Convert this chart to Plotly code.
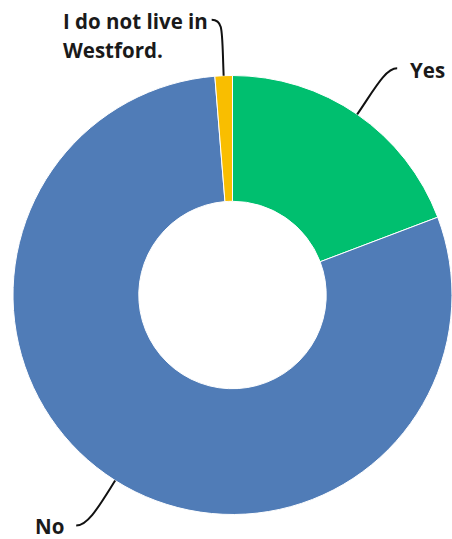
import math
import plotly.graph_objects as go

# ---- data ----
labels = ["Yes", "No", "I do not live in Westford."]
label_lines = [["Yes"], ["No"], ["I do not live in", "Westford."]]
values = [15, 62, 1]
colors = ["#00BF6F", "#507CB7", "#F9BE00"]

W, H = 452, 539
CX, CY, R = 232.5, 295.0, 219.5
HOLE = 0.427

fig = go.Figure(go.Pie(
    labels=labels, values=values, sort=False, direction="clockwise", rotation=0,
    hole=HOLE, textinfo="none", hoverinfo="label+percent",
    marker=dict(colors=colors, line=dict(color="white", width=1)),
    domain=dict(x=[(CX - R) / W, min(1.0, (CX + R) / W)],
                y=[1 - (CY + R) / H, 1 - (CY - R) / H]),
    showlegend=False,
))

def px(x):
    return x / W

def py(y):
    return 1 - y / H

total = sum(values)
cum = 0
mids = []
for v in values:
    mids.append((cum + v / 2) / total * 360)
    cum += v

leader = [
    dict(ext=30, end=(40, -46), hdir=1),    # Yes
    dict(ext=30, end=(-39, 45), hdir=-1),   # No
    dict(ext=46, end=(-12, -56), hdir=-1),  # I do not live
]

LINE_H = 29
shapes = []
annotations = []
for i, (lines, ang) in enumerate(zip(label_lines, mids)):
    a = math.radians(ang)
    ux, uy = math.sin(a), -math.cos(a)
    x0, y0 = CX + R * ux, CY + R * uy
    L = leader[i]
    x3, y3 = x0 + L["end"][0], y0 + L["end"][1]
    c1 = (x0 + ux * L["ext"], y0 + uy * L["ext"])
    c2 = (x3 - L["hdir"] * 12, y3)
    path = "M {:.4f},{:.4f} C {:.4f},{:.4f} {:.4f},{:.4f} {:.4f},{:.4f}".format(
        px(x0), py(y0), px(c1[0]), py(c1[1]), px(c2[0]), py(c2[1]), px(x3), py(y3))
    shapes.append(dict(type="path", path=path, xref="paper", yref="paper",
                       line=dict(color="#111111", width=2)))
    if i == 0:
        annotations.append(dict(x=px(x3 + 11), y=py(y3 + 2), text=lines[0],
                                xanchor="left", yanchor="middle"))
    elif i == 1:
        annotations.append(dict(x=px(x3 - 10), y=py(y3), text=lines[0],
                                xanchor="right", yanchor="middle"))
    else:
        for k, t in enumerate(lines):
            annotations.append(dict(x=px(x3 - 151), y=py(y3 + 1 + k * LINE_H), text=t,
                                    xanchor="left", yanchor="middle"))

for an in annotations:
    an.update(xref="paper", yref="paper", showarrow=False)

fig.update_layout(
    width=W, height=H,
    margin=dict(l=0, r=0, t=0, b=0),
    paper_bgcolor="white", plot_bgcolor="white",
    shapes=shapes, annotations=annotations,
    font=dict(family="Open Sans", size=20.5, color="#1a1a1a", weight="bold"),
)

fig.write_html("out.html", config={"displayModeBar": False},
               post_script="document.body.style.margin='0';")
